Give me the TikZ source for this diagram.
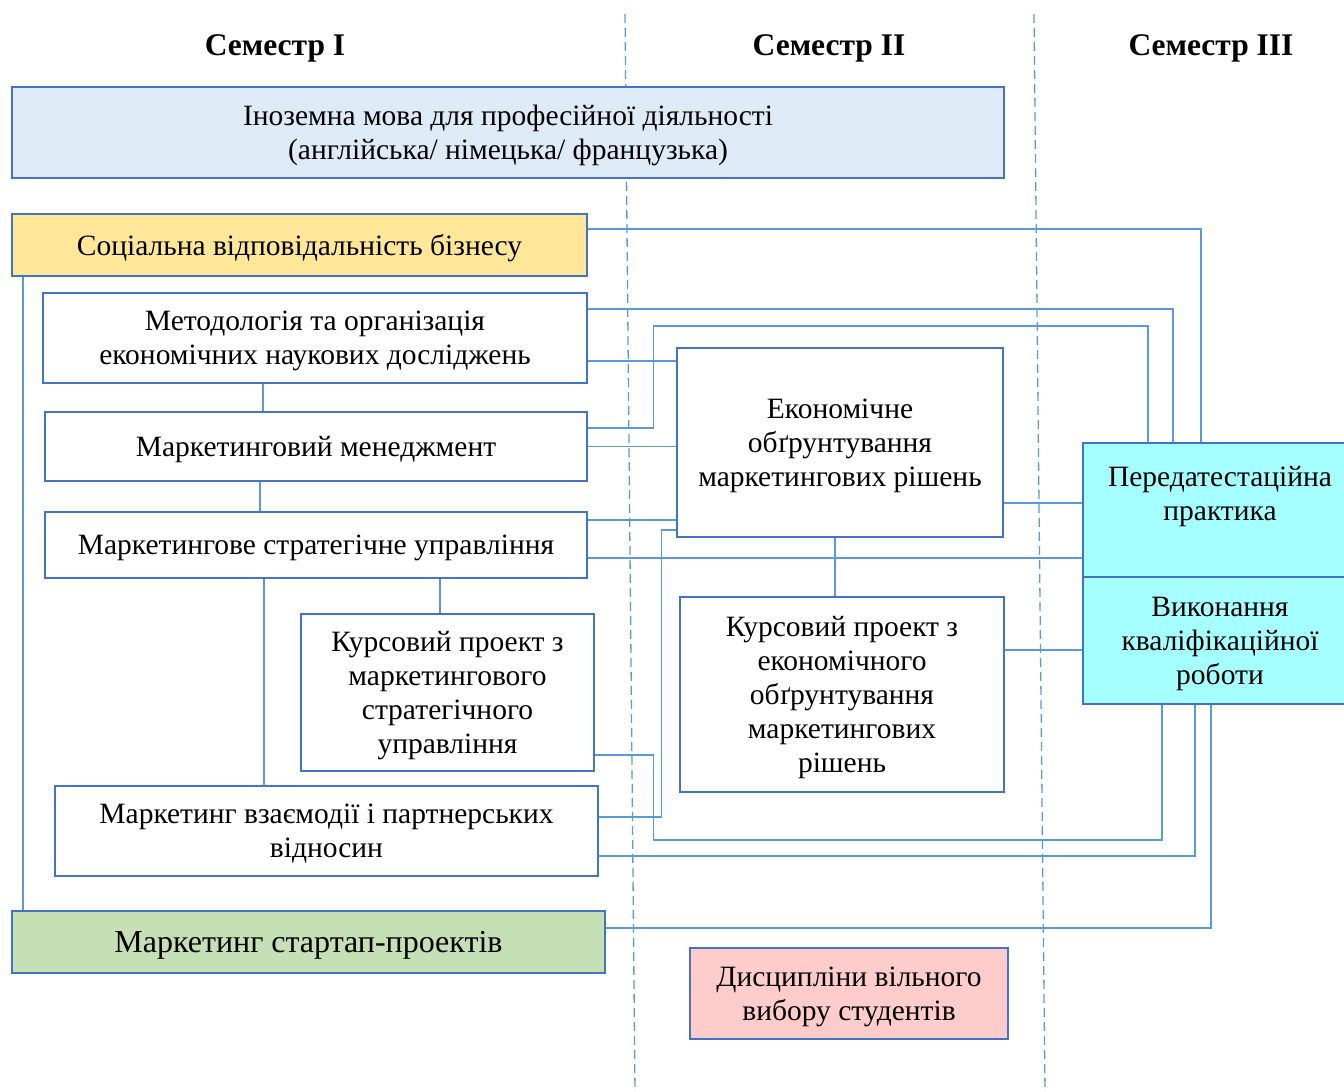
\documentclass[tikz,border=0pt]{standalone}
\usepackage{fontspec}
\setmainfont{Liberation Serif}
\usepackage{tikz}
\usetikzlibrary{calc, positioning}
\definecolor{bxline}{HTML}{4472C4}
\definecolor{cnline}{HTML}{5B9BD5}
\definecolor{inofill}{HTML}{DEEBF7}
\definecolor{socfill}{HTML}{FFE699}
\definecolor{stfill}{HTML}{C5E0B4}
\definecolor{prfill}{HTML}{A6FFFF}
\definecolor{dvfill}{HTML}{FFCCCC}

\begin{document}
\begin{tikzpicture}[x=1pt, y=-1pt,
                  every node/.style={inner sep=0pt, align=center, text depth=0pt, font=\fontsize{29.5}{34}\selectfont},
                  bx/.style={draw=bxline, line width=2.8pt, fill=white},
                  bl/.style={bx, fill=inofill},
                  yl/.style={bx, fill=socfill},
                  gn/.style={bx, fill=stfill},
                  cy/.style={bx, fill=prfill},
                  pk/.style={bx, fill=dvfill},
                  sem/.style={font=\fontsize{31.5}{34}\selectfont\bfseries},
                  ln/.style={draw=cnline, line width=1.3pt},
                  sep/.style={draw=cnline, line width=1.3pt, dash pattern=on 9pt off 5pt}]
    
    \useasboundingbox (0,0) rectangle (1344,1092); % page in pixels of the reference
    
    % semesters
    \node [sem] (s1) at (275,45)  {Семестр I};
    \node [sem] (s2) at (829,45)  {Семестр II};
    \node [sem] (s3) at (1211,45) {Семестр III};
    \coordinate (d1a) at (625,14);
    \coordinate (d1b) at (635,1092);
    \coordinate (d2a) at (1034,14);
    \coordinate (d2b) at (1045,1092);
    \draw [sep] (d1a) -- (d1b);
    \draw [sep] (d2a) -- (d2b);
    
    % disciplines
    \node [bl, minimum width=992, minimum height=91] (ino) at (508,132.5)
          {Іноземна мова для професійної діяльності\\(англійська/ німецька/ французька)};
    \node [yl, minimum width=575, minimum height=62] (soc) at (299.5,245) {Соціальна відповідальність бізнесу};
    \node [bx, minimum width=544, minimum height=90] (met) at (315,338)
          {Методологія та організація\\економічних наукових досліджень};
    \node [bx, minimum width=542, minimum height=69] (mm)  at (316,446.5) {Маркетинговий менеджмент};
    \node [bx, minimum width=542, minimum height=66] (msu) at (316,545) {Маркетингове стратегічне управління};
    \node [bx, minimum width=293, minimum height=157] (kmsu) at (447.5,692.5)
          {Курсовий проект з\\маркетингового\\стратегічного\\управління};
    \node [bx, minimum width=543, minimum height=90] (mvp) at (326.5,831)
          {Маркетинг взаємодії і партнерських\\відносин};
    \node [gn, minimum width=593, minimum height=62, font=\fontsize{32}{34}\selectfont] (start) at (308.5,942)
          {Маркетинг стартап-проектів};
    \node [bx, minimum width=326, minimum height=189] (eomr) at (840,442.5)
          {Економічне\\обґрунтування\\маркетингових рішень};
    \node [bx, minimum width=324, minimum height=195] (keomr) at (842,694.5)
          {Курсовий проект з\\економічного\\обґрунтування\\маркетингових\\рішень};
    \node [cy, minimum width=274, minimum height=134] (pred) at (1220,510)
          {Передатестаційна\\практика\\~};
    \node [cy, minimum width=274, minimum height=127] (vkr) at (1220,640.5)
          {Виконання\\кваліфікаційної\\роботи};
    \node [pk, minimum width=318, minimum height=91] (dvv) at (849,993.5)
          {Дисципліни вільного\\вибору студентів};
    
    % links inside semester I
    \draw [ln] ([xshift=-276.5pt]soc.south) -- ([xshift=-276.5pt]soc.south |- start.north);
    \draw [ln] ([xshift=-52pt]met.south) -- ([xshift=-52pt]met.south |- mm.north);
    \draw [ln] ([xshift=-56pt]mm.south) -- ([xshift=-56pt]mm.south |- msu.north);
    \draw [ln] ([xshift=-52pt]msu.south) -- ([xshift=-52pt]msu.south |- mvp.north);
    \draw [ln] ([xshift=124pt]msu.south) -- ([xshift=124pt]msu.south |- kmsu.north);
    
    % links to semester II
    \draw [ln] ([yshift=-23pt]met.east) -- ([yshift=-23pt]met.east -| eomr.west);
    \draw [ln] (mm.east) -- (mm.east -| eomr.west);
    \draw [ln] ([yshift=25pt]msu.east) -- ([yshift=25pt]msu.east -| eomr.west);
    \draw [ln] ([yshift=-87.5pt]eomr.west) -- ++(-14,0) |- ([yshift=14pt]mvp.east);
    \draw [ln] ([xshift=-5pt]eomr.south) -- ([xshift=-5pt]eomr.south |- keomr.north);
    
    % links to semester III
    \draw [ln] ([yshift=16pt]soc.east) -| ([xshift=-19pt]pred.north);
    \draw [ln] ([yshift=29pt]met.east) -| ([xshift=-47pt]pred.north);
    \draw [ln] ([yshift=18.5pt]mm.east) -- ++(65,0) -- ++(0,-102) -| ([xshift=-72pt]pred.north);
    \draw [ln] ([yshift=-13pt]msu.east) -- ([yshift=-13pt]msu.east -| pred.west);
    \draw [ln] ([yshift=-60.5pt]eomr.east) -- ([yshift=-60.5pt]eomr.east -| pred.west);
    \draw [ln] ([yshift=44.5pt]keomr.east) -- ([yshift=44.5pt]keomr.east -| vkr.west);
    \draw [ln] ([yshift=-62.5pt]kmsu.east) -- ++(58,0) -- ++(0,85) -| ([xshift=-58pt]vkr.south);
    \draw [ln] ([yshift=-25pt]mvp.east) -| ([xshift=-25pt]vkr.south);
    \draw [ln] ([yshift=14pt]start.east) -| ([xshift=-9pt]vkr.south);
    
\end{tikzpicture}
\end{document}
